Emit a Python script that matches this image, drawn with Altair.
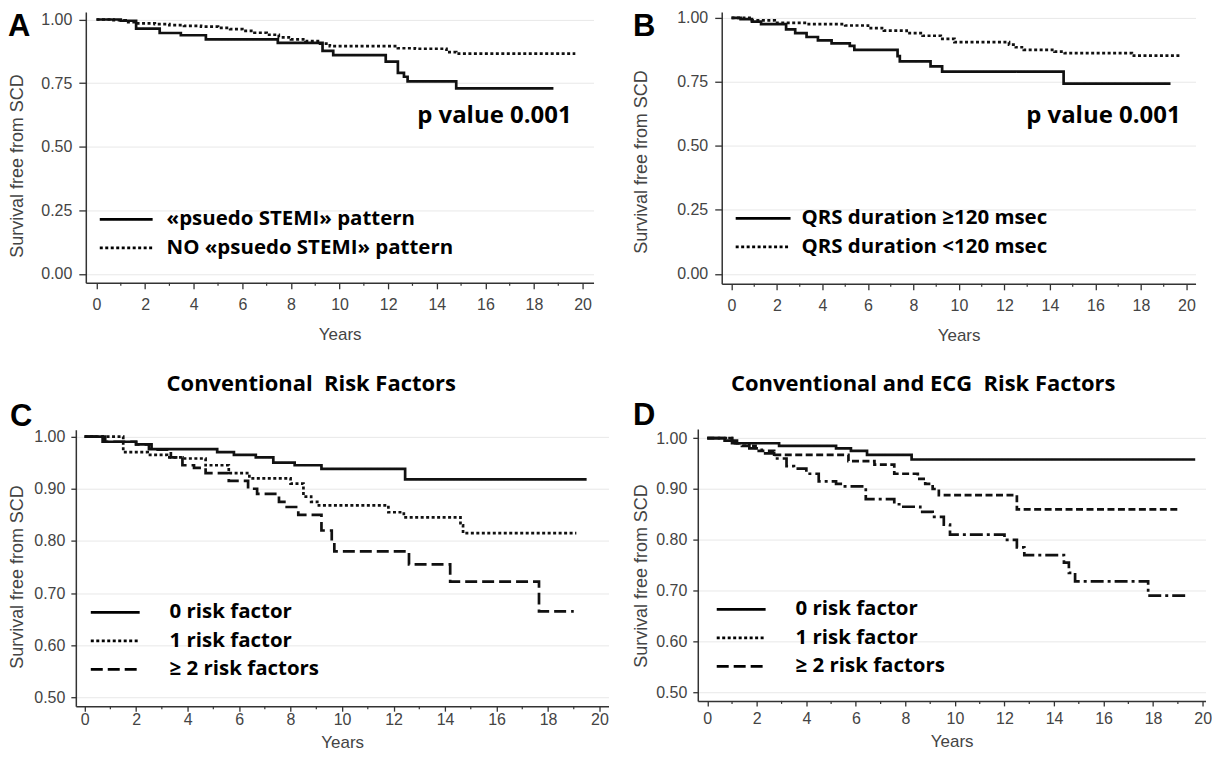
import altair as alt
import pandas as pd

# ---------------- data ----------------
YEAR_TICKS = [0, 2, 4, 6, 8, 10, 12, 14, 16, 18, 20]
MINOR_TICKS = [1, 3, 5, 7, 9, 11, 13, 15, 17, 19]

# Panel A
A_NAMES = ["«psuedo STEMI» pattern", "NO «psuedo STEMI» pattern"]
A_PSTEMI_T = [0, 1.0, 1.63, 2.6, 3.47, 4.5, 7.46, 9.3, 9.74, 11.9, 12.4, 12.65, 12.8, 14.8, 18.8]
A_PSTEMI_S = [1.0, 0.995, 0.964, 0.947, 0.938, 0.922, 0.908, 0.877, 0.86, 0.834, 0.79, 0.775, 0.757, 0.729, 0.729]
A_NOPSTEMI_T = [0, 0.7, 1.2, 1.7, 2.4, 3.0, 3.6, 4.3, 5.0, 5.5, 6.0, 6.5, 7.0, 7.5, 8.0, 8.6, 9.2, 9.6, 12.4, 13.1, 14.4, 14.8, 19.7]
A_NOPSTEMI_S = [1.0, 0.997, 0.99, 0.985, 0.982, 0.978, 0.975, 0.972, 0.967, 0.962, 0.955, 0.948, 0.94, 0.93, 0.922, 0.915, 0.905, 0.895, 0.887, 0.885, 0.872, 0.866, 0.866]
A_YTICKS = [0.0, 0.25, 0.5, 0.75, 1.0]

# Panel B
B_NAMES = ["QRS duration ≥120 msec", "QRS duration <120 msec"]
B_WIDE_T = [0, 0.4, 0.9, 1.3, 2.4, 2.8, 3.3, 3.8, 4.4, 5.2, 5.4, 7.3, 7.4, 8.75, 9.26, 14.6, 19.3]
B_WIDE_S = [1.0, 0.995, 0.985, 0.975, 0.955, 0.94, 0.925, 0.912, 0.90, 0.89, 0.875, 0.85, 0.83, 0.81, 0.79, 0.743, 0.743]
B_NARROW_T = [0, 0.9, 1.9, 3.3, 5.0, 6.0, 6.7, 7.7, 8.4, 9.2, 9.8, 12.2, 12.5, 12.85, 14.2, 14.65, 17.6, 19.7]
B_NARROW_S = [1.0, 0.99, 0.98, 0.975, 0.97, 0.96, 0.95, 0.94, 0.93, 0.918, 0.905, 0.895, 0.885, 0.875, 0.868, 0.862, 0.852, 0.852]

# Panels C and D
RISK_NAMES = ["0 risk factor", "1 risk factor", "≥ 2 risk factors"]
CD_YTICKS = [0.5, 0.6, 0.7, 0.8, 0.9, 1.0]
C0_T = [0, 0.8, 2.0, 2.5, 5.15, 5.8, 6.65, 7.33, 8.16, 9.2, 12.45, 19.5]
C0_S = [1.0, 0.99, 0.985, 0.976, 0.97, 0.965, 0.96, 0.95, 0.945, 0.938, 0.918, 0.918]
C1_T = [0, 1.5, 2.45, 3.2, 3.8, 4.7, 5.6, 6.4, 8.0, 8.5, 8.8, 9.1, 11.8, 12.4, 14.6, 14.7, 19.1]
C1_S = [1.0, 0.97, 0.965, 0.96, 0.958, 0.945, 0.93, 0.92, 0.91, 0.885, 0.875, 0.868, 0.855, 0.845, 0.83, 0.815, 0.815]
C2_T = [0, 0.7, 2.0, 2.6, 3.35, 3.8, 4.25, 4.7, 5.6, 6.35, 6.7, 7.55, 7.85, 8.3, 9.2, 9.6, 9.7, 12.6, 14.2, 17.65, 19.0]
C2_S = [1.0, 0.99, 0.985, 0.975, 0.96, 0.945, 0.94, 0.93, 0.915, 0.90, 0.89, 0.875, 0.865, 0.85, 0.82, 0.80, 0.78, 0.755, 0.722, 0.665, 0.665]
D0_T = [0, 0.7, 1.2, 2.9, 5.2, 5.8, 6.45, 8.25, 19.7]
D0_S = [1.0, 0.995, 0.99, 0.985, 0.98, 0.975, 0.967, 0.958, 0.958]
D1_T = [0, 1.0, 1.4, 1.95, 2.7, 5.7, 6.75, 7.55, 8.5, 8.8, 9.1, 9.35, 12.5, 19.1]
D1_S = [1.0, 0.99, 0.985, 0.975, 0.967, 0.955, 0.948, 0.93, 0.92, 0.91, 0.90, 0.888, 0.86, 0.86]
D2_T = [0, 1.0, 1.7, 2.2, 2.7, 3.2, 3.5, 4.0, 4.5, 5.2, 5.5, 6.4, 7.55, 7.85, 8.6, 9.1, 9.55, 9.8, 12.0, 12.5, 12.8, 14.4, 14.6, 14.85, 17.8, 19.4]
D2_S = [1.0, 0.99, 0.98, 0.97, 0.96, 0.945, 0.94, 0.93, 0.915, 0.91, 0.905, 0.88, 0.87, 0.865, 0.855, 0.845, 0.83, 0.81, 0.80, 0.785, 0.77, 0.755, 0.735, 0.718, 0.69, 0.69]

P_TEXT = "p value 0.001"
Y_TITLE = "Survival free from SCD"
X_TITLE = "Years"
C_TITLE = "Conventional\u00a0 Risk Factors"
D_TITLE = "Conventional and ECG\u00a0 Risk Factors"

# ---------------- styling ----------------
AX_FONT = "Liberation Sans, Arial, Helvetica, sans-serif"
TX_FONT = "Open Sans, Lato, sans-serif"
SOLID = [1, 0]
DOTTED = [3, 2.5]
DASHED = [12, 5]
SHORTDASH = [7, 3.5]
DASHDOT = [13, 4, 3, 4]


def km_table(names, ts, ss):
    rows = []
    for n, tl, sl in zip(names, ts, ss):
        for t, s in zip(tl, sl):
            rows.append({"group": n, "t": t, "s": s})
    return pd.DataFrame(rows)


def make_legend(pl, length, ls, cy):
    size = 400
    half = 10.0
    k = length / 2.0 / half
    lx = pl + length / 2.0 - 11.5
    return alt.Legend(
        orient="none", legendX=lx, legendY=cy - 11.5, title=None,
        symbolType=f"M-{k:.3f},0H{k:.3f}", symbolSize=size, symbolStrokeWidth=2.8,
        symbolStrokeColor="black", symbolFillColor="transparent", symbolOpacity=1,
        labelFont=TX_FONT, labelFontSize=20.5, labelFontWeight="bold", labelColor="black",
        labelOffset=ls - (lx + 23), rowPadding=6.5, padding=0, labelLimit=600,
    )


def text_layer(label, x, y, size, align, font, baseline="alphabetic"):
    return alt.Chart(pd.DataFrame({"lab": [label]})).mark_text(
        align=align, baseline=baseline, font=font, fontSize=size, fontWeight="bold", color="black"
    ).encode(x=alt.value(x), y=alt.value(y), text="lab:N")


def panel(p):
    df = km_table(p["names"], p["ts"], p["ss"])
    shift = p.get("yshift", 0)  # y axis moved left of the view edge by this many pixels
    if shift:
        xs = alt.Scale(domain=p["xdom"], nice=False, zero=False, range=[-shift, p["w"]])
    else:
        xs = alt.Scale(domain=p["xdom"], nice=False, zero=False)
    ys = alt.Scale(domain=p["ydom"], nice=False, zero=False)
    xaxis = alt.Axis(values=YEAR_TICKS, title=X_TITLE, format="d", grid=False,
                     tickSize=p["xtick"], labelPadding=p["xlabpad"], titlePadding=p["xtitlepad"],
                     labelFlush=False, labelOverlap=False)
    yaxis = alt.Axis(values=p["yticks"], title=Y_TITLE, format=".2f", grid=True, offset=shift,
                     tickSize=p["ytick"], labelPadding=p["ylabpad"], titleX=p["ytx"], titleY=p["yty"],
                     titleFontSize=18, labelFlush=False, labelOverlap=False)
    leg = make_legend(*p["legend"])
    ghost = p.get("legend_dash") is not None
    curves = alt.Chart(df).mark_line(interpolate="step-after", color="#111", strokeWidth=2.7).encode(
        x=alt.X("t:Q", scale=xs, axis=xaxis),
        y=alt.Y("s:Q", scale=ys, axis=yaxis),
        strokeDash=alt.StrokeDash("group:N", scale=alt.Scale(domain=p["names"], range=p["dash"]),
                                  legend=None if ghost else leg),
    )
    layers = [curves]
    if ghost:
        layers.append(alt.Chart(df).mark_line(opacity=0).encode(
            x="t:Q", y="s:Q",
            strokeDash=alt.StrokeDash("group:N", scale=alt.Scale(domain=p["names"], range=p["legend_dash"]),
                                      legend=leg),
        ))
    h = p["h"]
    layers.append(alt.Chart(pd.DataFrame({"t": MINOR_TICKS})).mark_rule(color="#333", strokeWidth=1.2).encode(
        x="t:Q", y=alt.value(h), y2=alt.value(h + 3)))
    if p.get("spacer"):
        # white, invisible rule that only widens the panel's bounds (sets the gap to the next panel)
        layers.append(alt.Chart(pd.DataFrame({"t": [0]})).mark_rule(color="white", strokeWidth=1).encode(
            x=alt.value(p["w"]), x2=alt.value(p["w"] + p["spacer"]), y=alt.value(h + 40)))
    layers.append(text_layer(p["letter"], p["letter_xy"][0], p["letter_xy"][1], 31, "left", AX_FONT))
    if p.get("pval"):
        layers.append(text_layer(P_TEXT, p["pval"][0], p["pval"][1], 24, "right", TX_FONT, "middle"))
    if p.get("title"):
        layers.append(text_layer(p["title"], p["title_xy"][0], p["title_xy"][1], 22, "center", TX_FONT))
    ch = alt.layer(*layers).properties(width=p["w"], height=h)
    if ghost:
        ch = ch.resolve_scale(strokeDash="independent")
    return ch


A = panel(dict(names=A_NAMES, ts=[A_PSTEMI_T, A_NOPSTEMI_T], ss=[A_PSTEMI_S, A_NOPSTEMI_S],
               dash=[SOLID, DOTTED], xdom=[-0.44, 20.45], ydom=[-0.0353, 1.0298], w=509, h=271.6,
               yticks=A_YTICKS, letter="A", letter_xy=(-78, 24.4), ytx=-59, yty=154, ytick=7, ylabpad=7,
               legend=(14, 53, 81, 208), xtick=6, xlabpad=8, xtitlepad=14, pval=(487, 104.5), spacer=18.5))
B = panel(dict(names=B_NAMES, ts=[B_WIDE_T, B_NARROW_T], ss=[B_WIDE_S, B_NARROW_S],
               dash=[SOLID, DOTTED], xdom=[-0.43, 20.40], ydom=[-0.039, 1.023], w=475, h=272.6,
               yticks=A_YTICKS, letter="B", letter_xy=(-89, 24.4), ytx=-71, yty=150, ytick=7, ylabpad=7,
               legend=(14, 55, 80, 207), xtick=6, xlabpad=8, xtitlepad=14, pval=(460, 104.5)))
C = panel(dict(names=RISK_NAMES, ts=[C0_T, C1_T, C2_T], ss=[C0_S, C1_S, C2_S],
               dash=[SOLID, DOTTED, DASHED], xdom=[-0.341, 20.35], ydom=[0.4834, 1.0128], w=524, h=277,
               yshift=10, yticks=CD_YTICKS, letter="C", letter_xy=(-76, -4), ytx=-49, yty=147,
               ytick=5, ylabpad=6, legend=(5, 49, 84, 183), xtick=5, xlabpad=0, xtitlepad=7,
               title=C_TITLE, title_xy=(226, -38.5)))
D = panel(dict(names=RISK_NAMES, ts=[D0_T, D1_T, D2_T], ss=[D0_S, D1_S, D2_S],
               dash=[SOLID, SHORTDASH, DASHDOT], legend_dash=[SOLID, DOTTED, DASHED],
               xdom=[-0.383, 20.116], ydom=[0.4829, 1.0183], w=509, h=272.7,
               yticks=CD_YTICKS, letter="D", letter_xy=(-65, -4), ytx=-47, yty=147, ytick=5, ylabpad=6,
               legend=(19, 49, 98, 181), xtick=5, xlabpad=5, xtitlepad=7,
               title=D_TITLE, title_xy=(226, -37.5)))

chart = alt.concat(A, B, C, D, columns=2, align="none",
                   spacing={"row": 29, "column": 14.5}).resolve_scale(
    strokeDash="independent"
).resolve_legend(
    strokeDash="independent"
).properties(
    padding={"left": 0, "top": 0, "right": 0, "bottom": 0}, background="white"
).configure_view(
    stroke=None
).configure_axis(
    labelFont=AX_FONT, labelFontSize=16, labelColor="#444",
    titleFont=AX_FONT, titleFontSize=17, titleColor="#444", titleFontWeight="normal",
    domainColor="#333", domainWidth=1.5, tickColor="#333", tickWidth=1.3,
    gridColor="#e8e8e8", gridWidth=1,
)

chart.save("out.html", embed_options={"renderer": "svg", "actions": False})
